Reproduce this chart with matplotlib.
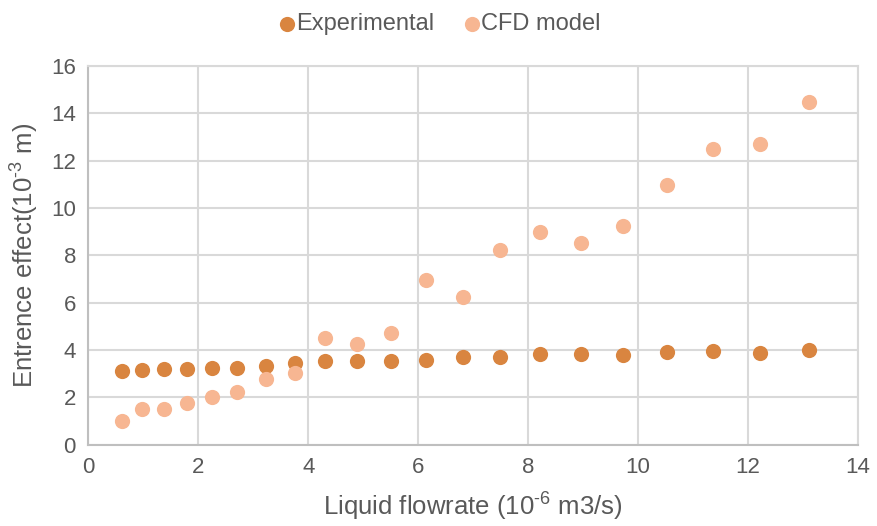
import matplotlib.pyplot as plt

# --- Data ---
flow = [0.61, 0.98, 1.37, 1.79, 2.25, 2.71, 3.23, 3.75, 4.31, 4.89, 5.51,
        6.14, 6.82, 7.49, 8.22, 8.97, 9.73, 10.53, 11.37, 12.22, 13.11]
experimental = [3.12, 3.14, 3.20, 3.21, 3.24, 3.23, 3.31, 3.45, 3.52, 3.52, 3.55,
                3.59, 3.69, 3.72, 3.83, 3.84, 3.80, 3.90, 3.96, 3.86, 4.01]
cfd_model = [1.01, 1.52, 1.52, 1.76, 2.00, 2.24, 2.76, 3.01, 4.49, 4.25, 4.73,
             6.96, 6.25, 8.23, 8.99, 8.50, 9.23, 10.98, 12.49, 12.72, 14.49]

C_EXP = "#D98540"
C_CFD = "#F7B692"
C_TEXT = "#595959"
C_GRID = "#D9D9D9"

plt.rcParams.update({
    "font.family": ["Liberation Sans", "DejaVu Sans"],
    "mathtext.fontset": "custom",
    "mathtext.rm": "Liberation Sans",
})

fig = plt.figure(figsize=(8.78, 5.26), dpi=100)
ax = fig.add_axes([0.1007, 0.1548, 0.8763, 0.7197])

ax.scatter(flow, experimental, s=120, color=C_EXP, linewidths=0, zorder=3, label="Experimental")
ax.scatter(flow, cfd_model, s=120, color=C_CFD, linewidths=0, zorder=3, label="CFD model")

ax.set_xlim(0, 14)
ax.set_ylim(0, 16)
ax.set_xticks(range(0, 15, 2))
ax.set_yticks(range(0, 17, 2))
ax.grid(True, color=C_GRID, linewidth=1.5, zorder=0)
ax.set_axisbelow(True)
for side in ["top", "right"]:
    ax.spines[side].set_color(C_GRID)
    ax.spines[side].set_linewidth(1.5)
for side in ["left", "bottom"]:
    ax.spines[side].set_color("#BFBFBF")
    ax.spines[side].set_linewidth(1.5)
ax.tick_params(length=0, labelsize=16, colors=C_TEXT, pad=9)

ax.set_xlabel("Liquid flowrate (10$^{\\mathregular{\u20106}}$ m3/s)", fontsize=18.5, color=C_TEXT, labelpad=8)
ax.set_ylabel("Entrence effect(10$^{\\mathregular{\u20103}}$ m)", fontsize=18.5, color=C_TEXT, labelpad=8)

fig.legend(loc="upper center", bbox_to_anchor=(0.492, 1.015), ncol=2, frameon=False,
           fontsize=17, labelcolor=C_TEXT, handletextpad=-0.6, columnspacing=0.6,
           markerscale=1.0)

fig.savefig("out.png", dpi=100)
